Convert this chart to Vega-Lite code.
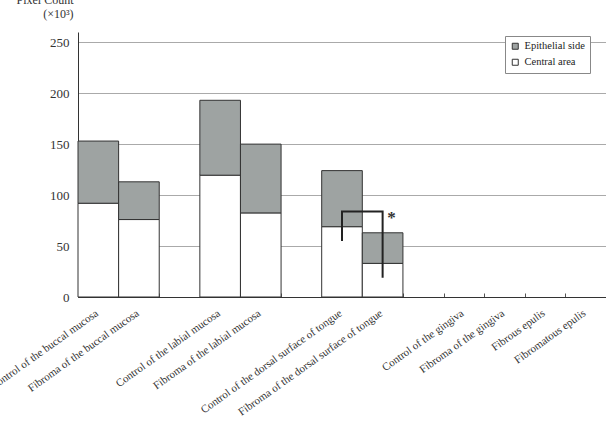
{
  "$schema": "https://vega.github.io/schema/vega-lite/v6.json",
  "width": 528,
  "height": 265,
  "autosize": {"type": "none"},
  "padding": {"left": 78, "top": 32, "right": 0, "bottom": 129},
  "background": "white",
  "config": {
    "font": "Liberation Serif",
    "view": {"stroke": null},
    "axis": {"labelColor": "#333", "titleColor": "#333", "labelFont": "Liberation Serif", "titleFont": "Liberation Serif"}
  },
  "datasets": {
    "bars": [
      {"cat": "Control of the buccal mucosa", "part": "Central area", "value": 92, "ord": 0},
      {"cat": "Control of the buccal mucosa", "part": "Epithelial side", "value": 61, "ord": 1},
      {"cat": "Fibroma of the buccal mucosa", "part": "Central area", "value": 76, "ord": 0},
      {"cat": "Fibroma of the buccal mucosa", "part": "Epithelial side", "value": 37, "ord": 1},
      {"cat": "Control of the labial mucosa", "part": "Central area", "value": 119.5, "ord": 0},
      {"cat": "Control of the labial mucosa", "part": "Epithelial side", "value": 73.5, "ord": 1},
      {"cat": "Fibroma of the labial mucosa", "part": "Central area", "value": 82.5, "ord": 0},
      {"cat": "Fibroma of the labial mucosa", "part": "Epithelial side", "value": 67.5, "ord": 1},
      {"cat": "Control of the dorsal surface of tongue", "part": "Central area", "value": 69, "ord": 0},
      {"cat": "Control of the dorsal surface of tongue", "part": "Epithelial side", "value": 55, "ord": 1},
      {"cat": "Fibroma of the dorsal surface of tongue", "part": "Central area", "value": 33, "ord": 0},
      {"cat": "Fibroma of the dorsal surface of tongue", "part": "Epithelial side", "value": 30, "ord": 1}
    ],
    "bracket": [
      {"cat": "Control of the dorsal surface of tongue", "y": 55, "o": 1},
      {"cat": "Control of the dorsal surface of tongue", "y": 84, "o": 2},
      {"cat": "Fibroma of the dorsal surface of tongue", "y": 84, "o": 3},
      {"cat": "Fibroma of the dorsal surface of tongue", "y": 19, "o": 4}
    ],
    "star": [
      {"cat": "Fibroma of the dorsal surface of tongue", "y": 78, "label": "*"}
    ]
  },
  "encoding": {
    "x": {
      "field": "cat",
      "type": "nominal",
      "scale": {
        "domain": [
          "Control of the buccal mucosa", "Fibroma of the buccal mucosa", "gap1",
          "Control of the labial mucosa", "Fibroma of the labial mucosa", "gap2",
          "Control of the dorsal surface of tongue", "Fibroma of the dorsal surface of tongue", "gap3",
          "Control of the gingiva", "Fibroma of the gingiva", "Fibrous epulis", "Fibromatous epulis"
        ],
        "paddingInner": 0,
        "paddingOuter": 0
      },
      "axis": {
        "title": null,
        "labelExpr": "indexof(datum.label, 'gap') == 0 ? '' : datum.label",
        "labelAngle": -35.5,
        "labelAlign": "right",
        "labelBaseline": "top",
        "labelFontSize": 11,
        "labelPadding": 14,
        "labelOffset": -5,
        "labelLimit": 400,
        "labelOverlap": false,
        "tickBand": "extent",
        "tickSize": -4,
        "tickColor": "#555",
        "domainColor": "#333",
        "grid": false
      }
    }
  },
  "layer": [
    {
      "data": {"name": "bars"},
      "mark": {"type": "bar", "stroke": "#333", "strokeWidth": 1},
      "encoding": {
        "y": {
          "field": "value",
          "type": "quantitative",
          "stack": "zero",
          "scale": {"domain": [0, 250]},
          "axis": {
            "values": [0, 50, 100, 150, 200, 250],
            "title": ["Pixel Count", "(×10³)"],
            "titleAngle": 0,
            "titleAlign": "right",
            "titleBaseline": "alphabetic",
            "titleX": -5,
            "titleY": -29,
            "titleLineHeight": 14,
            "titleFontSize": 12,
            "titleFontWeight": "normal",
            "labelFontSize": 13,
            "labelPadding": 9,
            "ticks": false,
            "domainColor": "#333",
            "gridColor": "#aaaaaa"
          }
        },
        "color": {
          "field": "part",
          "type": "nominal",
          "scale": {"domain": ["Epithelial side", "Central area"], "range": ["#9ea3a2", "#ffffff"]},
          "legend": {
            "title": null,
            "orient": "none",
            "legendX": 427,
            "legendY": 4,
            "strokeColor": "#888",
            "fillColor": "white",
            "padding": 5,
            "symbolType": "square",
            "symbolSize": 36,
            "symbolStrokeColor": "#333",
            "symbolStrokeWidth": 1,
            "labelFont": "Liberation Serif",
            "labelFontSize": 10.5,
            "labelColor": "#222",
            "rowPadding": 5
          }
        },
        "order": {"field": "ord", "type": "quantitative"}
      }
    },
    {
      "data": {"name": "bracket"},
      "mark": {"type": "line", "color": "#222", "strokeWidth": 2},
      "encoding": {
        "y": {"field": "y", "type": "quantitative"},
        "order": {"field": "o", "type": "quantitative"}
      }
    },
    {
      "data": {"name": "star"},
      "mark": {"type": "text", "dx": 9, "baseline": "middle", "fontSize": 17, "fontWeight": "bold", "color": "#333"},
      "encoding": {
        "y": {"field": "y", "type": "quantitative"},
        "text": {"field": "label"}
      }
    }
  ]
}
